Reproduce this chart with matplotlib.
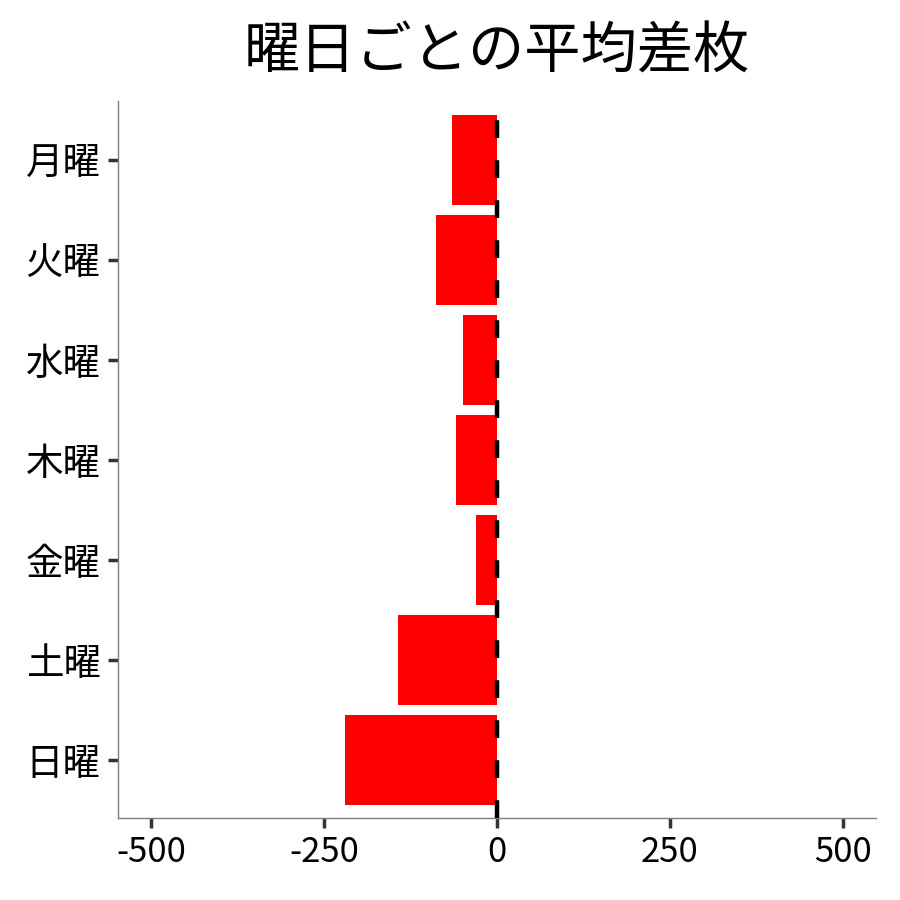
import matplotlib
matplotlib.use("Agg")
import matplotlib.pyplot as plt

# 曜日ごとの平均差枚
days = ["月曜", "火曜", "水曜", "木曜", "金曜", "土曜", "日曜"]
avg_diff = [-65, -88, -49, -59, -30, -143, -220]
x_ticks = [-500, -250, 0, 250, 500]

plt.rcParams['font.family'] = ['Noto Sans CJK JP', 'DejaVu Sans']
plt.rcParams['axes.unicode_minus'] = False

fig = plt.figure(figsize=(9, 9), dpi=100)
ax = fig.add_axes([0.131, 0.091, 0.842, 0.797])

ypos = list(range(len(days)))
ax.barh(ypos, avg_diff, height=0.9, color="#ff0000", zorder=2)
ax.axvline(0, color="black", linestyle=(0, (4, 5)), linewidth=3.2, zorder=3)

ax.set_xlim(-548, 548)
ax.set_ylim(len(days) - 0.42, -0.59)
ax.set_xticks(x_ticks)
ax.set_xticklabels([str(v) for v in x_ticks])
ax.set_yticks(ypos)
ax.set_yticklabels(days)

for side in ["top", "right"]:
    ax.spines[side].set_visible(False)
for side in ["left", "bottom"]:
    ax.spines[side].set_color("#7f7f7f")
    ax.spines[side].set_linewidth(1)

ax.tick_params(axis="both", colors="#333333", length=7.5, width=2.5,
               labelsize=25, labelcolor="black", pad=5)
ax.tick_params(axis="y", labelsize=27)

ax.set_title("曜日ごとの平均差枚", fontsize=40.5, pad=23)

fig.savefig("out.png", dpi=100)
